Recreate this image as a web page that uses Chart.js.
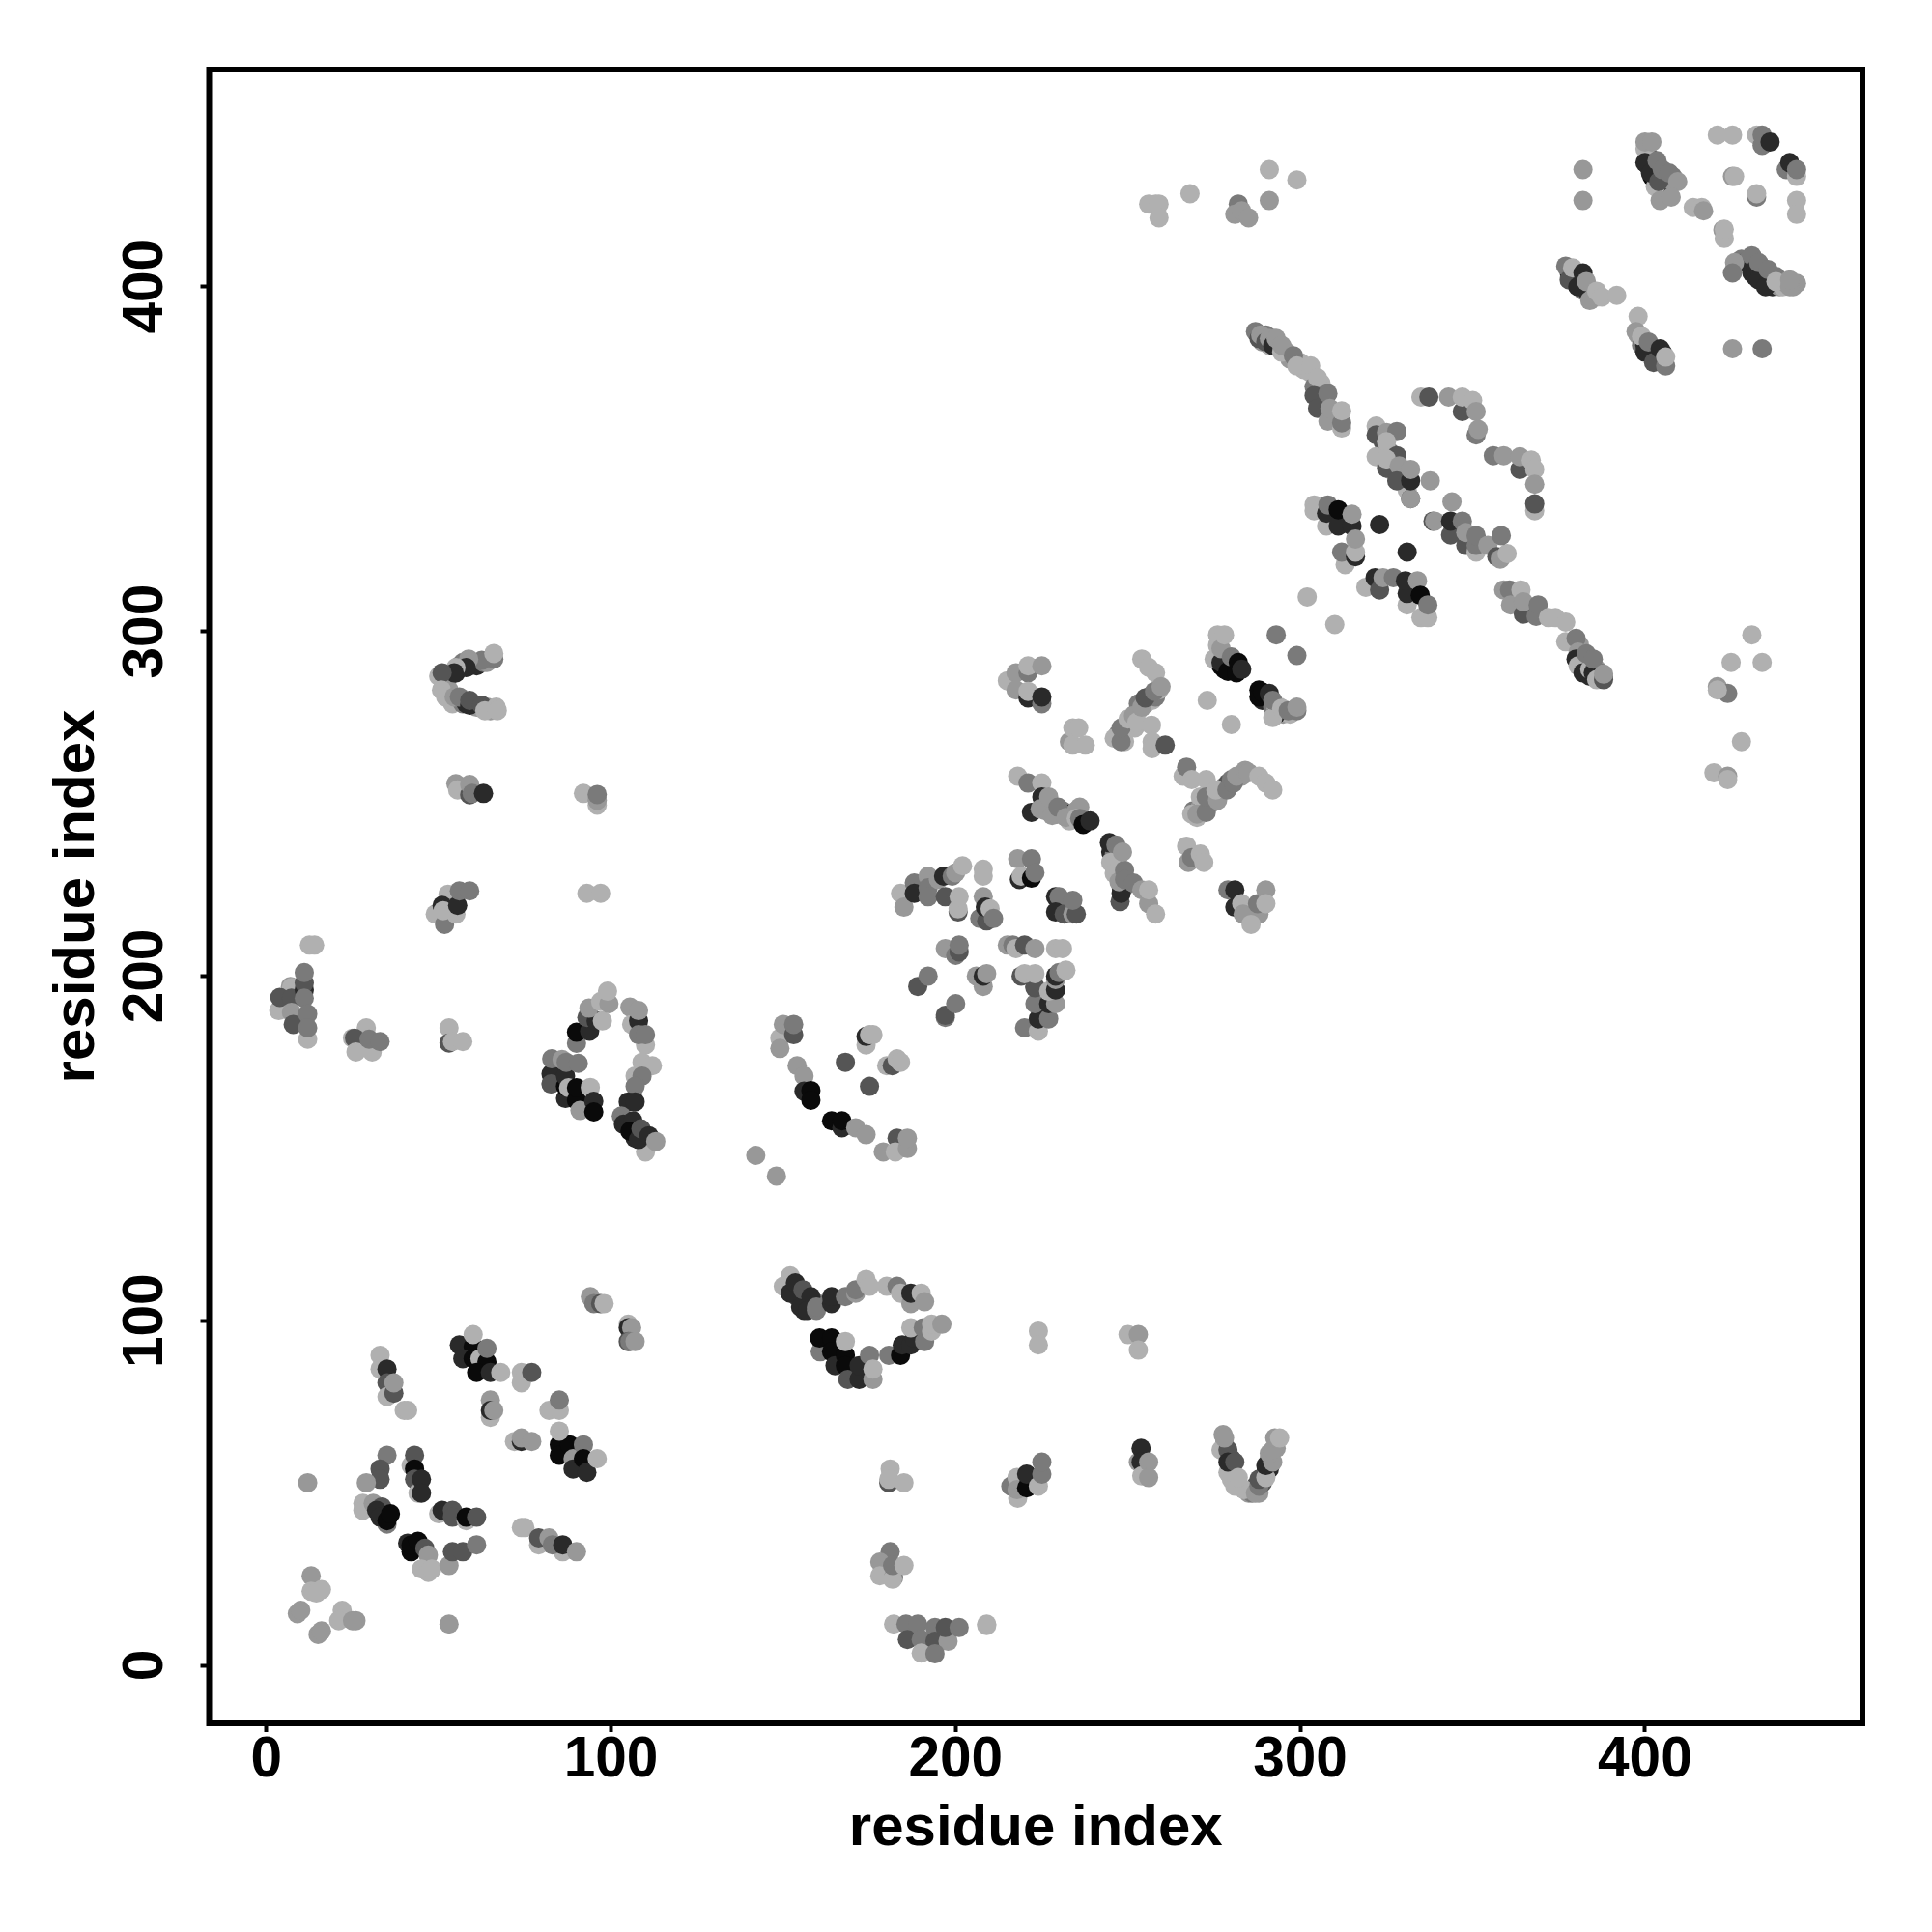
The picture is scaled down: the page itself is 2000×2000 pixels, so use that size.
<!DOCTYPE html>
<html><head><meta charset="utf-8">
<style>html,body{margin:0;padding:0;background:#fff}canvas{display:block}</style>
<script src="https://cdn.jsdelivr.net/npm/chart.js@4"></script>
</head><body>
<canvas id="c" width="2000" height="2000"></canvas>
<script>
// each entry: [residue x, residue y, contact level 1 (weak) .. 6 (strong)]
const tickValues = [0, 100, 200, 300, 400];
const axisTitle = "residue index";
const lowLeftA = [[94,107,2],[95,105,3],[97,105,4],[98,105,1],[105,99,1],[105,98,5],[106,98,2],[105,94,4],[105.5,94,3],[107,94,2]];
const lowLeftB = [[56,93,5],[60,92.5,6],[57,89,5],[60,89,6],[62,89,1],[64,88,6],[61,85,6],[65,85,5],[60,96,1],[64,92,3],[68,85,1]];
const lowLeftC = [[74,85,1],[74,82,1],[77,85,4],[65,77,2],[65,72,1],[65,74,5],[66,74,2],[82,74,1],[85,74,1],[85,77,3],[72,65,1],[74,65,5],[74,66,2],[77,65,2]];
const lowLeftD = [[85,64,6],[85,61,6],[88,64,6],[89,60,2],[89,57,5],[92,64,3],[92,60,6],[93,56,5],[85,68,1],[96,60,1]];
const lowLeftE = [[33,90,1],[33,86,1],[35,86,5],[35,82,4],[35,78,1],[37,79,4],[37,82,2],[40,74,1],[41,74,1],[12,53,2]];
const lowLeftF = [[35,61,3],[33,57,4],[33,54,4],[29,53,2],[28,47,1],[28,45,1],[31,47,2],[33.5,46,4],[32,45,5],[35,41,3],[33,43,5],[35,42,6],[36,44,6]];
const lowLeftG = [[42,58,1],[43,61,4],[43,57,6],[43,54,4],[44,50,1],[45,54,5],[45,50,5],[50,44,1],[51,45,5],[54,45,4],[54,43,4],[58,42,1],[58,43,6],[61,43,4]];
const lowLeftH = [[41,35.5,5],[42,33,6],[42,35,6],[44,36,6],[46,34,4],[47,32,2],[45,28,1],[47,27,1],[48,28,1],[53,29,2],[54,33,4],[57,33,4],[61,35,3]];
const lowLeftI = [[74,40,1],[75,40,1],[79,35,1],[79,37,4],[82,37,2],[86,33,1],[83,35,3],[86,35,5],[90,33,2]];
const lowLeftJ = [[13,26,2],[13,21.5,1],[14.5,21,1],[16,22,1],[9,15,2],[10,16,2],[22,16,1],[21,13,1],[26,13,2],[25,13,2],[15,9,2],[16,10,2],[53,12,2]];
const arcUpper = [[150,110,1],[152,113,1],[152,108,5],[153.5,111,5],[155,104,5],[155.7,109,4],[158,107,5],[157,103,5],[159.6,103,3],[159.6,104,3],[164,105,5],[164,107,5],[168,107,3],[171,108,2],[171,109,3],[174,112,1],[175,110,1],[180,110,1],[183,110,3],[184,108,1],[187,105,2],[187,108,5],[190,108,1],[191,105.5,2]];
const arcLower = [[180.6,90,3],[184,90,6],[184.5,93,5],[187,93,5],[188,95,5],[187,98,1],[191,94,3],[190.6,98,3],[193,97,1],[193,99,1],[196,99,2],[160.7,91,3],[160.5,95,6],[164,95,6],[164,91,6],[165,87,5],[168,90,6],[168,87,6],[168.7,83,4],[172,83,5],[172,87,5],[175,90,3],[176,83,2],[176,86,1],[168,94,1]];
const lowMiddle = [[224,97,1],[224,93,1],[250,96,1],[253,96,2],[253,91.5,1],[180.6,53,4],[181,57,1],[180.6,54,1],[185,53,1]];
const lowMidA = [[216,52,3],[217.8,54.5,1],[218,48.5,1],[217.8,51,2],[220.6,51.5,6],[220.6,55.5,5],[224,52,1],[225,55.5,3],[225,59,3]];
const lowMidB = [[253,59,2],[253.8,63,5],[253.8,59,5],[254,55,1],[256,59,2],[256,54.5,2]];
const vShape = [[277,62.5,1],[277.6,67,2],[279,62.5,4],[279,59,5],[278,66,2],[281,59,4],[281,52,1],[283.7,51,1],[282,54.5,1],[287,50,2],[288,52,3],[288,54,4],[290,54.5,1],[290,58,5],[292,59,2],[291,61.5,2],[292,62.5,2],[292.6,66,2],[294,66,1]];
const lowCluster = [[181,33,3],[178,30,2],[178,26,1],[182,25.6,3],[181.7,25,1],[181.7,29,3],[185,29,1]];
const bottomRow = [[182,12,1],[185.6,12,3],[189,12,3],[186,7.5,4],[194,11,3],[190,7.5,3],[194,7,4],[197.8,7,2],[197,11,4],[201,11,3],[190,3.6,1],[194,3.4,3],[209,12,1],[209,11.6,1]];
const midTopA = [[66,292,3],[62.5,291.6,3],[66,293.6,1],[58.7,292,2],[58,289.5,5],[55,289.5,1],[54.5,288,5],[50,287,1],[51,288,4],[50.8,283,1],[52,281,1],[54.5,281,2],[56,281,3],[59,278.6,5],[59,280,4],[62.5,278.6,4],[63.4,277,1],[66.7,278,1],[67,277,1]];
const midTopB = [[55,255.8,2],[55.5,254,1],[59,252.6,4],[59,255.6,2],[59.7,253,3],[63,253,5],[92,253,1],[96,249.6,1],[96,251,2],[96,252.7,3]];
const midTopC = [[52.7,223.7,1],[49,218,1],[51.7,215,3],[51,220.5,5],[51.3,219,1],[55,218,1],[55.5,220.5,5],[56,224.7,3],[59,224.7,3],[93,224,1],[97,224,1]];
const leftColumn = [[12.5,209,1],[14,209,1],[12,181.7,1],[7,197,2],[7.3,196.7,1],[3.6,190,1],[3.9,193.8,4],[7.3,193.6,4],[11,196,5],[11,198,4],[11,201,3],[11,193.6,3],[7.3,189.5,2],[7.8,186,4],[12,189,3],[12,185,3]];
const leftGroup = [[29,185,1],[25,182,1],[25.6,182,4],[26,178,1],[30.7,178,1],[29.8,181.7,3],[33,181,3],[53,185,1],[53,180.6,4],[54,181,1],[57,181,1]];
const loopLeft = [[90,180.5,3],[90,183.7,6],[93.8,184,5],[93,188,4],[95.7,187,5],[93.6,190.7,2],[97.5,187,1],[97,192.6,1],[99.4,192,2],[99,195.6,1]];
const loopRight = [[105.5,191,2],[106,186,1],[108,187,5],[108,190,2],[110,180,1],[108,183,3],[110,183,3],[109,175,1],[112,174,1],[107,171,1],[109,171,3],[107,168,3],[105,163.5,5],[107,163.5,5]];
const loopBottom = [[110,149,1],[103,159.4,3],[103.6,157,5],[106.4,158,5],[105.5,155,6],[108,152.6,5],[108.7,155.7,4],[111,153.7,5],[113,152,2]];
const loopBase = [[82.6,168.7,1],[82.6,171.6,5],[82.6,168.7,4],[82.8,176,3],[85.8,175.8,2],[86.8,164.5,5],[86.8,168,6],[86.8,171,5],[87,175,3],[90.5,174.7,3],[87.7,167.6,1],[90,164,6],[90,167.6,6],[91,161,2],[94,167.7,1],[95,163.7,5],[95,160.6,6]];
const centerA = [[142,148,2],[148,142,2],[149,182,1],[149,179,2],[150,186,2],[153,183,4],[153,186,3],[154,174,2],[156,171,2],[156,166.6,5],[158,166.8,6],[158,164,6],[164,158,6],[167,156,5],[167,158,6],[171,156,2],[174,154,2],[168,175,4],[175,168,4]];
const centerB = [[174,180,1],[174,182.5,5],[175,183,1],[176,183,1],[180,174,1],[181.6,174,4],[183,176,1],[184,175,1],[179,149,2],[183,153,4],[182.5,149,1],[186,150,2],[186,153,2]];
const diagA = [[189,197,4],[192,200,3],[197,188,3],[197,188.6,4],[200,192,3],[206,200,2],[208,197,2],[208,200,5],[209,200.7,2],[197,208,2],[200,206,3],[201,207,4],[201,209,3]];
const diagB = [[220,185,3],[224,184,1],[224,187.6,5],[227,187.6,3],[223,192,3],[227,192,5],[229,192,2],[223,196.6,4],[223,197,4],[227,195.6,1],[229,196,5],[219,200,4],[220,200.7,1],[223,200.7,1],[229,199,2],[229,200,5],[230,201,3],[232,201.7,1],[215,209,2],[216.6,209,3],[217.5,208,1],[220,209,4],[223,208,2],[229,208,1],[231,208,1]];
const diagC = [[184,224,1],[185,220,2],[188,227,3],[188,224,5],[192,229,2],[192,225.6,3],[192,223,3],[195,228,2],[196.5,229,5],[199,229,3],[200,230,2],[197,223,4],[200.7,218.6,4],[200.7,219.5,1],[201,223,1],[202,232,1],[208,231,1],[208,229,1],[208,223,2],[207,216.7,3],[209,216,4],[208.6,220,5],[210,219.5,1],[211,216.7,3]];
const diagD = [[218,234,2],[218.5,228,5],[219,229,1],[222,228.4,6],[222,234,3],[223,230,3],[229,223,5],[230,223,3],[229,218.6,5],[231.5,218,4],[234,218,2],[235,218,4],[234,222,3]];
const diagE = [[218,258,1],[221,256,3],[225,256,1],[225,252,5],[222,247.5,5],[224.5,248.5,2],[227,252,2],[228,246.6,2],[229.7,249,3],[232,246,2],[236,249,2],[235,245.7,1],[236,245.7,3],[237,244,6],[239,245,5]];
const diagF = [[215,285.7,1],[217.5,288,2],[221,288,3],[221,290,1],[225,290,2],[217.5,283,2],[221,280.7,5],[221,282.6,1],[225,279,3],[225,281,5],[233,268,2],[234,272,1],[235.7,272,1],[234,267,1],[237.6,267,1]];
const diagG = [[254,292,1],[256,289.6,1],[258,288,1],[246,269,1],[248,268,3],[248,272,3],[250,274.6,1],[251.6,275.6,2],[252.6,273.7,1],[254,278,2],[255,280.7,4],[257.7,282.6,3],[259.6,284,2],[256.8,272.8,1],[257,268,1],[257,266,1],[260.8,267,4]];
const diagH = [[266,258,1],[267,260.6,3],[268.5,257,1],[272.7,257,1],[268.5,247,1],[270,247,2],[272.7,247.5,3],[272.7,252,3],[276,251,2],[275.5,254,1],[278.7,254,3],[280.6,256,3],[281.5,258,2],[284,259.7,2],[285,259,2],[288,258,1],[290,256,1],[292,254,1],[267,237.7,1],[267.5,233,2],[268.5,234.4,3],[271,235.4,1],[272,233,1]];
const diagI = [[247.7,221.6,4],[244.6,238.7,5],[246.5,238,3],[245,233,1],[246,229.8,1],[248,224,5],[247.4,227.4,2],[249,230.7,3],[249,228,3],[248.4,236,2],[251.6,227,3],[254,225,2],[256,221,2],[256,225,1],[258,218,1]];
const diagJ = [[279,225,3],[281,225,5],[281,220,5],[283,221,1],[283.4,218,2],[288,218,2],[287.6,221,3],[290,225,2],[290,221,1],[285.7,215,1],[273,280,1],[280,273,1]];
const upperA = [[275,292,1],[277,291,5],[279,288.4,6],[281.5,288,6],[276,299,1],[277,295,2],[278,299,1],[280,292.6,3],[282,291,6],[283,289,5],[293,299,3],[299,293,3]];
const upperB = [[288,281,6],[289,282.4,6],[291,282,5],[293,276,5],[292,275,1],[292,280,3],[294.6,277.7,1],[296.5,277,3],[299,277,3],[299,278,2]];
const upperC = [[287,387,3],[288,385,4],[288.5,386,2],[290,384,4],[291,385,2],[292,383,5],[293,385,2],[294.6,381,1],[294.6,383,2],[298,380,3],[299,377,1],[303,377,1],[305,373.6,1],[304,368.4,4],[305,364.7,4],[308,369,3],[308,361,2],[308.6,364.7,2],[312,359,1],[312,360.5,3],[312,364,1]];
const upperD = [[322,350.7,1],[322,359.6,1],[322,357,4],[325,357.7,2],[328,358,3],[325,355,1],[328,351,4],[325,347.4,4],[325,350,1],[328.7,348,2],[332,338.5,4],[332,338.5,2],[328,343.7,4],[332,343.7,5],[332,347,2],[337.7,343.7,2]];
const upperE = [[335,368,1],[337.3,368,4],[343,368,2],[347,363.8,4],[347,368,1],[350,367,1],[351,357,3],[351,363.8,2],[351.6,358.6,2],[356,351,3],[359,351,2],[363.7,347,4],[363.7,350.7,2],[367,349.7,1],[368,347,1],[368,342.7,2],[368,335,1],[368,337,4]];
const crossA = [[344,337.6,2],[338.5,332,4],[339,332,2],[343.6,328,4],[343.6,332,5],[347,332,3],[348,325,4],[348,328.7,2],[351,323,1],[351,325,3],[351,327.8,3],[354.4,325,2],[357,321.7,4],[358,321,2],[360,322.6,1],[358.3,327.8,3]];
const crossB = [[304,336.7,1],[304,335,1],[307.6,330.6,1],[307.6,334.3,5],[308,336.7,3],[311,330.6,5],[311,335.3,6],[315,330.6,5],[315,334,2],[313,319.4,1],[312,323,3],[316,321.7,5],[316,323,1],[316,326.8,2],[323,331,5],[331,323,5]];
const crossC = [[319,312.8,1],[321.7,315.6,5],[323,312,4],[324,315.6,2],[327,315.6,3],[331,307.7,1],[331,311,5],[330.5,314.7,5],[334,314.7,2],[334.8,310.5,6],[335,304,1],[337,304,1],[337,307.7,3],[302,310,1],[310,302,1]];
const tailLine = [[359,312,2],[360.7,312,3],[361,307.7,2],[364,312,1],[364.7,305,4],[364.7,308.6,2],[368.4,304.4,3],[369,307.7,3],[372,304,1],[374,304,1],[377,297,1],[377,302.7,1],[380,298,3],[380.6,294,2],[380,292,5],[380.6,290,1],[382,288,5],[384,289,1],[383,293.5,3],[385,288,5],[385,292,3],[386,286,1],[388,286,4],[388,287.6,2]];
const rightLow = [[431,299,1],[425,291,1],[434,291,1],[421,284,2],[424,282,3],[421,283,1],[428,268,1],[420,259,1],[424,258,2],[424,257,1]];
const topA = [[400,440,1],[400,442,2],[402,442,2],[400,436,5],[401.6,433,5],[403.5,436.6,3],[404,430.5,4],[405,434,3],[407,433,3],[409.5,430.5,2],[404.4,425,2],[407.6,426,2],[382,434,2],[382,425,2]];
const topB = [[414,423,1],[416.5,423,1],[417,422,2],[422.6,416.5,2],[423,414,1],[423,416.7,1],[421,444,1],[425.4,444,1],[425.4,432,2],[426,432,1],[432.4,426,3],[432.4,427,1],[432.4,444,1],[434,441,3],[434,444,3],[436.3,442,5]];
const topC = [[441,434,3],[442,436,5],[444,432,1],[444,434,3],[444,425,1],[444,421,1],[258,424,1],[256,424,1],[259,424,1],[259,420,1],[268,427,1],[282,424,3],[281,421,2],[283,422,2],[285,420,2],[291,434,1],[291,425,2],[299,431,1]];
const topD = [[426,407,2],[425.4,404,3],[431,409,3],[432,405,5],[433,402,5],[433,407,3],[435,400,5],[435.7,405,3],[438,401.5,1],[442,400,2],[442,402,2]];
const topE = [[377,406,3],[378,402,4],[379,405.5,1],[380.5,400,5],[382,404,5],[383,401.5,2],[384,396,2],[386,398.7,1],[387.5,397,1],[391.8,397.5,1],[398,391.4,1],[397.4,387,2],[399,385.6,1],[400,381,5],[402.5,378,4],[401,384,3],[404.4,382,5],[406,377,3],[406,379.6,1],[425.4,382,2],[434,382,3]];
// denser residues along the chains, drawn underneath
const chainUpper = [[289,384,2],[290,386,3],[291,383,1],[292,385,3],[293,383,3],[295,382,3],[296,381,2],[297,379,2],[300,378,1],[301,376,1],[303,375,1],[306,372,1],[306,370,1],[304,371,3],[306,367,3],[310,363,2],[323,358,1],[324,355,4],[326,352,3],[327,349,4],[326,347,2],[329,345,4],[330,346,3],[331,345,3],[331,341,1]];
const chainTail = [[381,296,2],[382,294,2],[383,292,5],[384,291,3],[385,290,2],[386,289,2],[387,288,3],[386,288,2],[388,287,2],[382,291,1],[384,287,5]];
const chainDiagG = [[249,271,2],[250,272,5],[251,274,1],[252,276,3],[253,277,1],[253,279,3],[255,279,2],[256,281,3],[257,280,1],[258,281,3],[259,283,1],[247,270,3],[249,268,1],[252,272,1]];
const chainDiagH = [[269,248,3],[271,249,2],[272,250,4],[274,250,2],[274,252,1],[276,253,4],[277,254,2],[278,255,2],[279,256,4],[280,257,3],[282,258,3],[283,258,2],[271,252,1],[270,246,1]];
const chainDiagE = [[226,250,3],[227,249,5],[228,248,2],[229,247,5],[230,247,2],[231,248,3],[233,247,5],[234,247,2],[233,245,1],[235,248,2],[238,245,6],[226,248,2]];
const chainDiagI = [[245,236,5],[246,235,3],[247,234,2],[246,232,5],[247,231,2],[248,229,5],[248,226,5],[249,226,3],[250,227,3]];
const chainUpperAB = [[277,290,6],[278,289,6],[279,291,4],[280,290,6],[281,289,6],[282,289,6],[276,296,1],[288,283,6],[290,281,6],[289,280,5],[291,280,5],[292,278,3],[293,278,1],[294,278,1],[295,276,2],[297,276,1]];
const chainTopA = [[401,438,4],[401,435,5],[402,434,5],[402,432,6],[403,433,5],[404,432,5],[405,431,3],[406,432,3],[406,430,5],[407,431,2],[408,432,3],[403,429,1]];
const chainTopD = [[428,408,3],[429,407,5],[430,408,3],[431,406,5],[431,404,5],[432,403,5],[434,404,4],[434,402,5],[436,403,3],[436,401,3],[437,400,5],[438,403,3],[439,400,2],[440,400,1],[441,401,2],[443,401,2],[443,400,2],[444,401,2]];
const chainTopE = [[378,404,5],[379,403,5],[380,402,2],[381,401,5],[382,399,3],[383,399,5],[384,399,2],[385,398,1],[386,397,1],[378,405,2],[398,386,2],[399,383,3],[400,384,3],[400,383,5],[401,382,4],[402,381,5],[403,380,5],[403,382,3],[404,379,5],[405,381,5],[405,378,3]];
const chainMidTop = [[53,287,3],[55,288,5],[56,290,4],[57,291,3],[60,291,3],[61,290,5],[63,291,3],[64,291,2],[52,283,1],[53,283,2],[54,279,1],[57,279,3],[58,279,5],[60,279,2],[61,278,2],[64,278,2],[65,277,2]];
const chainArc = [[153,109,5],[154,107,4],[155,106,5],[156,107,3],[157,105,4],[158,104,4],[156,103,5],[160,105,3],[104,158,3],[105,157,4],[106,156,5],[107,155,5],[107,153,5],[109,153,5],[110,152,5],[112,152,2]];
const chainV = [[278,64,2],[280,60,4],[279,56,1],[280,54,1],[282,52,1],[285,50,2],[286,50,3],[287,52,4],[288,50,2],[289,53,4],[290,56,3],[290,56,5],[291,57,5],[291,60,3],[293,63,2]];

const clusters = [topE,topD,topC,topB,topA,rightLow,tailLine,crossC,crossB,crossA,upperE,upperD,upperC,upperB,upperA,diagJ,diagI,diagH,diagG,diagF,diagE,diagD,diagC,diagB,diagA,centerB,centerA,loopBase,loopBottom,loopRight,loopLeft,leftGroup,leftColumn,midTopC,midTopB,midTopA,bottomRow,lowCluster,vShape,lowMidB,lowMidA,lowMiddle,arcLower,arcUpper,lowLeftJ,lowLeftI,lowLeftH,lowLeftG,lowLeftF,lowLeftE,lowLeftD,lowLeftC,lowLeftB,lowLeftA,
  chainUpper,chainTail,chainDiagG,chainDiagH,chainDiagE,chainDiagI,chainUpperAB,chainTopA,chainTopD,chainTopE,chainMidTop,chainArc,chainV];

const grays = [176, 152, 122, 85, 42, 10];
const shade = l => { const g = grays[l - 1]; return `rgb(${g},${g},${g})`; };

const frame = {
  id: 'frame',
  afterDatasetsDraw(chart) {
    const a = chart.chartArea, ctx = chart.ctx;
    ctx.save();
    ctx.strokeStyle = '#000'; ctx.lineWidth = 6; ctx.lineJoin = 'miter';
    ctx.strokeRect(a.left, a.top, a.right - a.left, a.bottom - a.top);
    ctx.restore();
  }
};
const tickFont = { family: '"Liberation Sans"', weight: 'bold', size: 58.5 };
const titleFont = { family: '"Liberation Sans"', weight: 'bold', size: 60 };
const setTicks = s => { s.ticks = tickValues.map(v => ({ value: v })); };
const grid = { drawOnChartArea: false, drawTicks: true, tickLength: 9, tickWidth: 4, tickColor: '#000' };

new Chart(document.getElementById('c'), {
  type: 'scatter',
  data: { datasets: clusters.map(c => ({
    data: c.map(p => ({ x: p[0], y: p[1] })),
    pointBackgroundColor: c.map(p => shade(p[2])),
    pointBorderWidth: 0, pointRadius: 10, clip: false
  })) },
  plugins: [frame],
  options: {
    responsive: false, animation: false, events: [],
    layout: { padding: { top: 72, right: 72, left: 0, bottom: 0 } },
    plugins: { legend: { display: false }, tooltip: { enabled: false } },
    scales: {
      x: {
        type: 'linear', min: -16.6, max: 463.1, afterBuildTicks: setTicks,
        afterFit: s => { s.height = 216; },
        grid, border: { display: false },
        ticks: { color: '#000', font: tickFont, padding: -5, autoSkip: false, maxRotation: 0, minRotation: 0 },
        title: { display: true, text: axisTitle, color: '#000', font: titleFont, padding: { top: 0, bottom: 71 } }
      },
      y: {
        type: 'linear', min: -16.8, max: 463, afterBuildTicks: setTicks,
        afterFit: s => { s.width = 216.5; },
        grid, border: { display: false },
        ticks: { color: '#000', font: tickFont, padding: 6.5, autoSkip: false, minRotation: 90, maxRotation: 90, crossAlign: 'center' },
        title: { display: true, text: axisTitle, color: '#000', font: titleFont, padding: { top: 44, bottom: 0 } }
      }
    }
  }
});
</script>
</body></html>
